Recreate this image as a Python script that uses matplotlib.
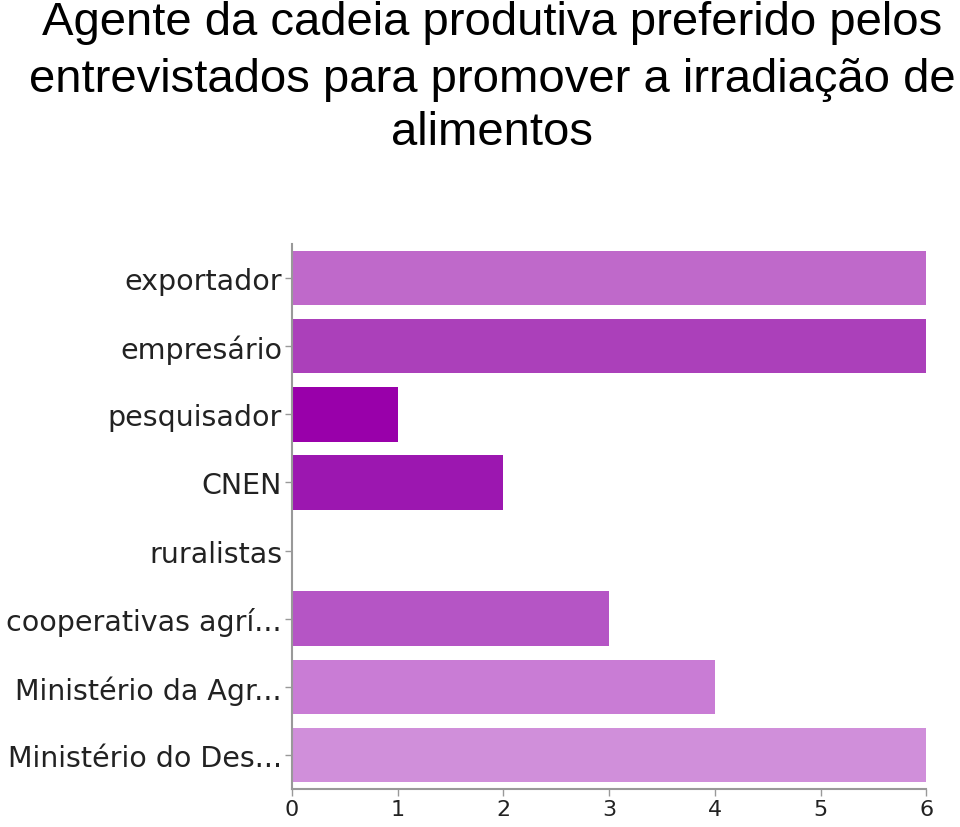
import matplotlib
matplotlib.use("Agg")
import matplotlib.pyplot as plt

plt.rcParams['font.family'] = ['Liberation Sans', 'DejaVu Sans']

categories = ['exportador', 'empresário', 'pesquisador', 'CNEN', 'ruralistas',
              'cooperativas agrí...', 'Ministério da Agr...', 'Ministério do Des...']
values = [6, 6, 1, 2, 0, 3, 4, 6]
colors = ['#BF69CA', '#AB40BA', '#9900AA', '#9C17B0', '#B060C0',
          '#B555C5', '#C97CD5', '#D08FDA']
xticks = [0, 1, 2, 3, 4, 5, 6]

title_lines = ['Agente da cadeia produtiva preferido pelos',
               'entrevistados para promover a irradiação de',
               'alimentos']

fig = plt.figure(figsize=(9.6, 8.28), dpi=100)
ax = fig.add_axes([0.304, 0.046, 0.661, 0.658])

ypos = list(range(len(categories)))
ax.barh(ypos, values, height=0.8, color=colors, edgecolor='none')
ax.set_ylim(len(categories) - 0.5, -0.5)
ax.set_xlim(0, 6)
ax.set_yticks(ypos)
ax.set_yticklabels(categories, fontsize=20.5, color='#222222', family='DejaVu Sans')
ax.set_xticks(xticks)
ax.set_xticklabels([str(t) for t in xticks], fontsize=16, color='#222222', family='DejaVu Sans')

for s in ['top', 'right']:
    ax.spines[s].set_visible(False)
for s in ['left', 'bottom']:
    ax.spines[s].set_color('#999999')
    ax.spines[s].set_linewidth(1.5)
ax.tick_params(axis='both', colors='#999999', labelcolor='#222222', length=5, width=1)
ax.tick_params(axis='y', pad=2)
ax.tick_params(axis='x', pad=2)

# title, one baseline per line
baselines = [35, 92, 145]
for line, yb in zip(title_lines, baselines):
    fig.text(0.513, 1 - yb / 828, line, ha='center', va='baseline', fontsize=34,
             color='black')

fig.savefig('out.png', dpi=100)
